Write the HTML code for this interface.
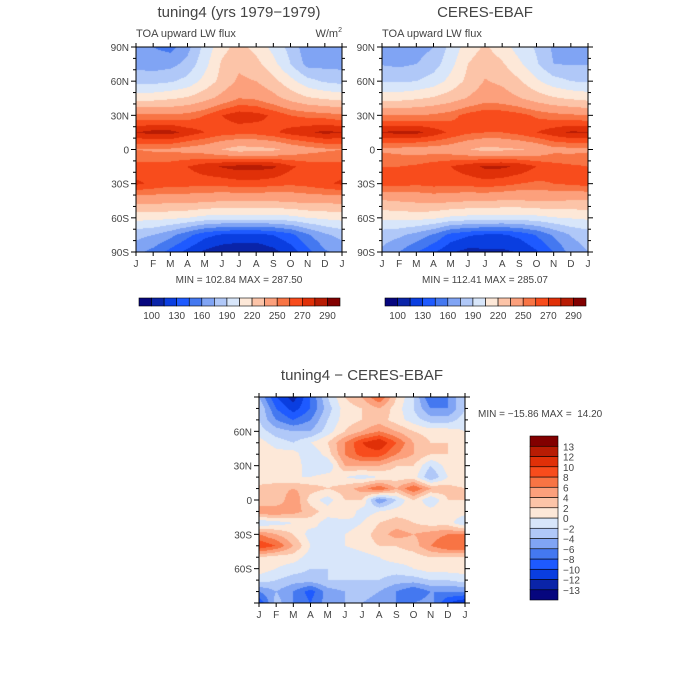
<!DOCTYPE html>
<html><head><meta charset="utf-8"><style>
body{margin:0;background:#fff;width:700px;height:700px;overflow:hidden;position:relative;font-family:"Liberation Sans",sans-serif}
canvas{position:absolute}
svg{position:absolute;left:0;top:0}
text{fill:#444;font-family:"Liberation Sans",sans-serif;white-space:pre}
</style></head><body>
<canvas id="c1" width="206" height="205" style="left:136px;top:47px"></canvas>
<canvas id="c2" width="206" height="205" style="left:382px;top:47px"></canvas>
<canvas id="c3" width="206" height="206" style="left:259px;top:397px"></canvas>
<svg id="svg" width="700" height="700"></svg>
<script>
// ---- data ----
const months=["J","F","M","A","M","J","J","A","S","O","N","D","J"];
const latsTop=[90,75,60,45,30,15,0,-15,-30,-45,-60,-75,-90];
const latsDiff=[90,80,70,60,50,40,30,20,10,0,-10,-20,-30,-40,-50,-60,-70,-80,-90];
const absLevels=[100,115,130,145,160,175,190,205,220,235,250,260,270,280,290];
const absLabels=["100","130","160","190","220","250","270","290"];
const diffLevels=[-13,-12,-10,-8,-6,-4,-2,0,2,4,6,8,10,12,13];
const diffLabels=["-13","-12","-10","-8","-6","-4","-2","0","2","4","6","8","10","12","13"];
const palette=["#06067e","#0a24a8","#0a3ee0","#1e5aff","#4478f0","#80a4f4","#b0c8f8","#d8e6fa","#fde8d8","#fcc4a8","#fca07c","#f87444","#f84c1c","#e03008","#b81c04","#820000"];
const model=[
[165,160,155,170,195,215,225,215,200,185,165,165,165],
[170,168,170,180,200,222,232,225,210,190,170,170,170],
[185,185,188,195,210,225,238,235,225,210,195,188,185],
[215,215,218,222,230,240,250,248,240,230,222,218,215],
[252,252,252,254,260,270,276,274,268,260,257,255,252],
[280,284,284,276,270,265,264,264,268,274,278,283,280],
[250,248,248,245,242,235,228,230,232,240,245,248,250],
[264,264,265,270,276,281,284,284,282,272,266,264,264],
[272,268,264,264,264,264,266,266,264,262,264,268,272],
[240,240,240,240,238,236,236,236,236,238,240,240,240],
[210,210,208,205,200,198,198,198,198,200,205,208,210],
[180,175,165,150,135,128,125,125,130,140,158,172,180],
[165,155,140,125,112,105,103,103,110,122,140,158,165]];
const ceres=[
[170,168,168,175,195,212,222,212,198,188,172,170,170],
[174,172,175,183,200,220,230,222,208,192,175,174,174],
[188,188,190,197,210,224,236,232,222,208,196,190,188],
[215,215,218,222,228,236,244,242,236,228,222,218,215],
[250,250,250,252,256,264,268,267,264,258,254,252,250],
[281,283,283,276,268,262,260,260,264,270,276,282,281],
[248,246,244,244,242,236,230,232,234,238,246,246,248],
[260,260,262,266,270,276,282,282,278,270,264,262,260],
[264,264,262,264,264,264,266,264,260,258,260,262,264],
[234,236,238,240,238,236,236,234,234,236,236,234,234],
[208,210,210,208,202,200,200,198,198,200,204,206,208],
[182,178,170,158,140,132,128,128,134,146,162,176,182],
[172,160,146,132,117,110,112,112,116,128,145,166,175]];
const diff=[
[-4,-10,-13,-8,-2,2,4,8,2,-2,-8,-6,-2],
[-2,-8,-11,-8,-3,1,2,4,1,-2,-6,-6,-2],
[-2,-6,-8,-6,-2,1,2,3,1,-1,-3,-3,-1],
[-1,-3,-4,-4,-1,2,4,6,4,2,1,1,0],
[1,-1,-2,0,2,6,10,12,8,4,2,2,1],
[2,1,1,-2,1,6,9,9,6,4,2,2,1],
[1,2,2,-2,-2,4,4,4,2,2,-2,1,0],
[0,1,0,0,1,0,-1,0,1,1,-4,0,0],
[3,3,4,3,2,3,5,8,4,8,4,3,2],
[2,2,6,1,-1,2,2,-6,-2,2,-2,2,2],
[6,6,5,3,1,2,-1,0,1,1,1,1,1],
[-2,-1,0,1,-1,-1,0,2,3,2,1,1,-2],
[6,4,2,-1,0,0,1,3,5,4,5,6,6],
[10,8,4,0,-1,0,1,2,2,3,6,8,8],
[2,1,1,-1,-2,-2,-1,0,1,1,2,2,2],
[1,0,-1,-2,-2,-2,-1,-1,-1,0,1,1,1],
[-1,-2,-3,-3,-2,-2,-2,-2,-3,-3,-2,-2,-1],
[-6,-4,-6,-9,-5,-4,-3,-4,-6,-8,-6,-6,-6],
[-10,-3,-6,-8,-5,-4,-4,-5,-6,-6,-5,-10,-12]];

function colorIdx(v,lv){let i=0;while(i<lv.length&&v>=lv[i])i++;return i;}
function hex(h){return [parseInt(h.substr(1,2),16),parseInt(h.substr(3,2),16),parseInt(h.substr(5,2),16)];}
const pal=palette.map(hex);
function drawField(id,grid,lats,lv){
  const cv=document.getElementById(id),ctx=cv.getContext('2d'),W=cv.width,H=cv.height;
  const img=ctx.createImageData(W,H);const nr=grid.length,nc=grid[0].length;
  for(let y=0;y<H;y++){const lat=90-180*(y+0.5)/H;let fr=(lats[0]-lat)/(lats[0]-lats[nr-1])*(nr-1);
    let r0=Math.min(nr-2,Math.floor(fr)),ty=fr-r0;
    for(let x=0;x<W;x++){let fc=(x+0.5)/W*(nc-1);let c0=Math.min(nc-2,Math.floor(fc)),tx=fc-c0;
      const v=(grid[r0][c0]*(1-tx)+grid[r0][c0+1]*tx)*(1-ty)+(grid[r0+1][c0]*(1-tx)+grid[r0+1][c0+1]*tx)*ty;
      const c=pal[colorIdx(v,lv)],k=(y*W+x)*4;img.data[k]=c[0];img.data[k+1]=c[1];img.data[k+2]=c[2];img.data[k+3]=255;}}
  ctx.putImageData(img,0,0);
}
drawField('c1',model,latsTop,absLevels);
drawField('c2',ceres,latsTop,absLevels);
drawField('c3',diff,latsDiff,diffLevels);

const svg=document.getElementById('svg');const NS="http://www.w3.org/2000/svg";
function el(tag,attrs,txt){const e=document.createElementNS(NS,tag);for(const k in attrs)e.setAttribute(k,attrs[k]);if(txt!==undefined)e.textContent=txt;svg.appendChild(e);return e;}
function txt(x,y,s,size,anchor,name){const t=el('text',{x:x,y:y,'font-size':size,'text-anchor':anchor||'start'},s);

return t;}
function axes(x0,y0,w,h,latLabels,pref){
  const r=el('rect',{x:x0,y:y0,width:w,height:h,fill:'none',stroke:'#000','stroke-width':1});
  
  
  months.forEach((m,i)=>{const x=x0+w*i/12;
    el('line',{x1:x,x2:x,y1:y0+h,y2:y0+h+4,stroke:'#000'});
    el('line',{x1:x,x2:x,y1:y0,y2:y0-4,stroke:'#000'});
    txt(x,y0+h+15,m,10,'middle',pref+'-month-label');});
  for(let l=-90;l<=90;l+=10){const y=y0+h*(90-l)/180;const maj=l%30===0;
    el('line',{x1:x0,x2:x0-(maj?5:3),y1:y,y2:y,stroke:'#000'});
    el('line',{x1:x0+w,x2:x0+w+(maj?5:3),y1:y,y2:y,stroke:'#000'});}
  latLabels.forEach(l=>{const y=y0+h*(90-l)/180;const s=l===0?'0':Math.abs(l)+(l>0?'N':'S');
    txt(x0-7,y+4,s,10,'end',pref+'-lat-label');});
}
axes(136,47,206,205,[90,60,30,0,-30,-60,-90],'model');
axes(382,47,206,205,[90,60,30,0,-30,-60,-90],'ceres');
axes(259,397,206,206,[60,30,0,-30,-60],'diff');

txt(239,17,"tuning4 (yrs 1979\u22121979)",15,'middle','model-title');
txt(136,37,"TOA upward LW flux",11,'start','model-subtitle');
const u=txt(342,37,"W/m",11,'end','model-units');
const sup=document.createElementNS(NS,'tspan');sup.setAttribute('font-size','7');sup.setAttribute('dy','-5');sup.textContent='2';u.appendChild(sup);
txt(239,283,"MIN = 102.84 MAX = 287.50",10,'middle','model-min-max');
txt(485,17,"CERES-EBAF",15,'middle','ceres-title');
txt(382,37,"TOA upward LW flux",11,'start','ceres-subtitle');
txt(485,283,"MIN = 112.41 MAX = 285.07",10,'middle','ceres-min-max');
txt(362,380,"tuning4 \u2212 CERES-EBAF",15,'middle','diff-title');
txt(478,417,"MIN = \u221215.86 MAX =  14.20",10,'start','diff-min-max');

function hbar(x0,name){const bw=201/16;
  palette.forEach((c,i)=>{const r=el('rect',{x:x0+i*bw,y:298,width:bw,height:8,fill:c,stroke:'#000','stroke-width':0.6});
    
    });
  absLabels.forEach((s,j)=>{txt(x0+bw*(1+2*j),319,s,10,'middle',name+'-label');});}
hbar(139,'model-colorbar');hbar(385,'ceres-colorbar');
const vh=164/16;
palette.forEach((c,i)=>{const r=el('rect',{x:530,y:600-(i+1)*vh,width:28,height:vh,fill:c,stroke:'#000','stroke-width':0.6});
  
  });
diffLabels.forEach((s,j)=>{txt(563,600-(j+1)*vh+4,s.replace('-','\u2212'),10,'start','diff-colorbar-label');});
</script>
</body></html>
